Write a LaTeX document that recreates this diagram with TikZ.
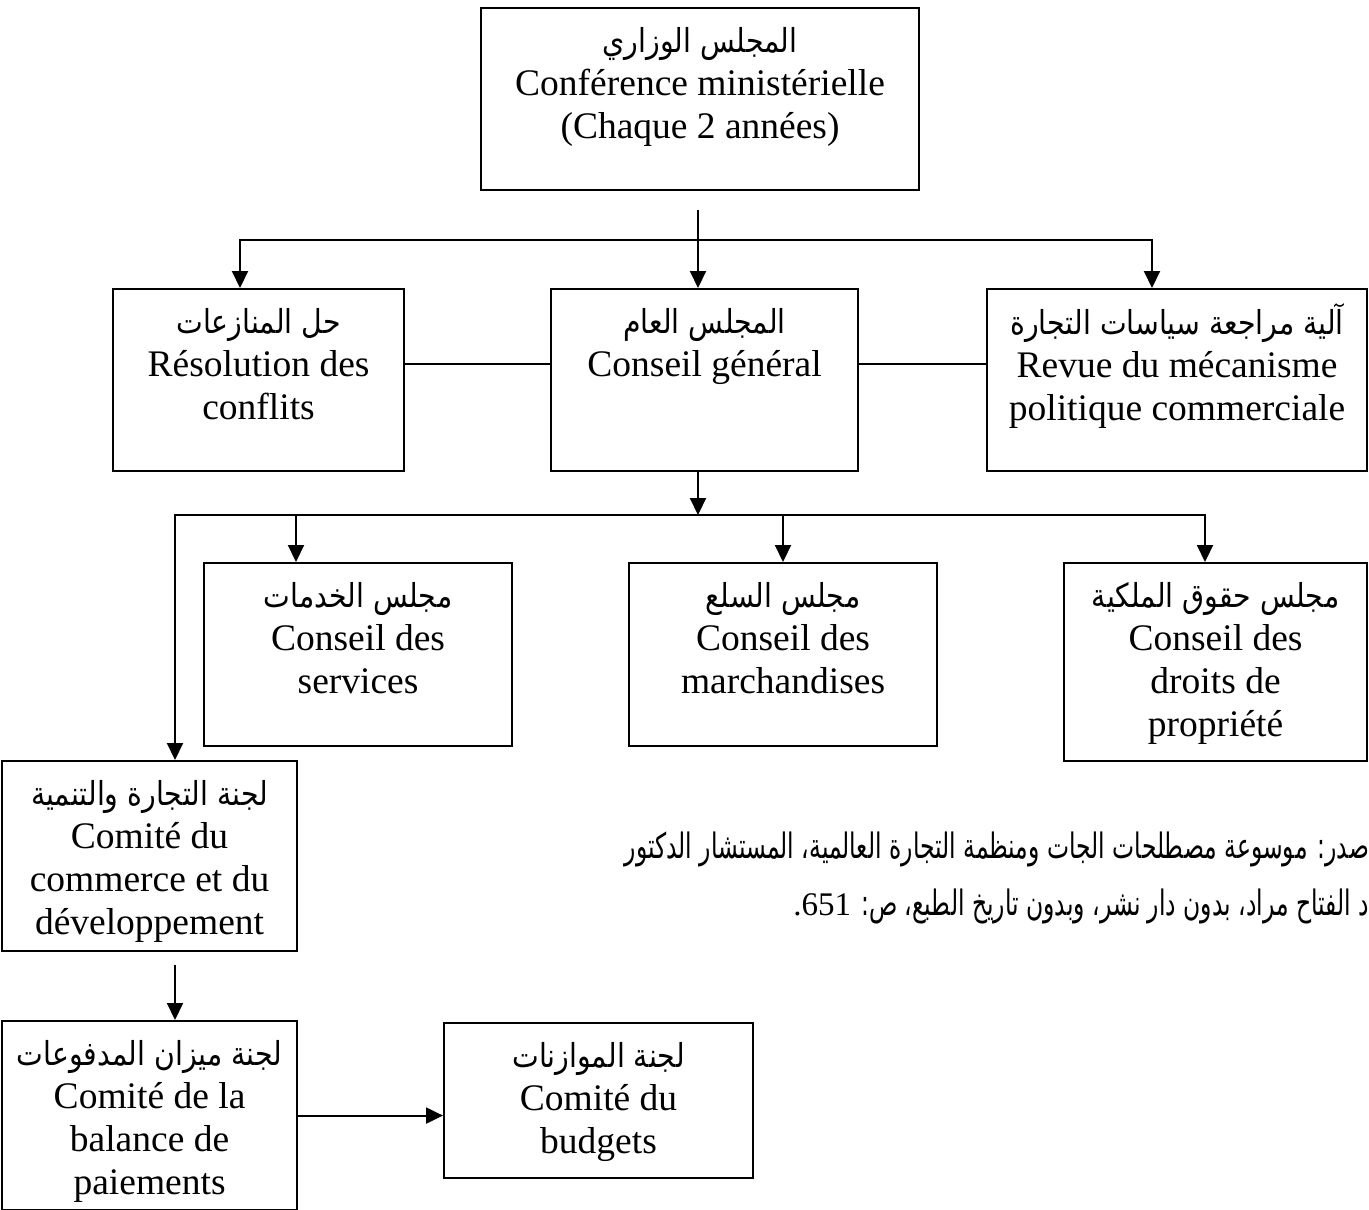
\documentclass[tikz,border=0pt]{standalone}
\usepackage{fontspec}
\setmainfont{Liberation Serif}
\newfontfamily\arabicfont[Script=Arabic, FakeStretch=0.86]{DejaVu Sans}
\newfontfamily\arabicnote[Script=Arabic, FakeStretch=0.67]{DejaVu Sans}
\TeXXeTstate=1
\usetikzlibrary{arrows.meta}

% one line of Arabic text, set right to left
\newcommand\artxt[1]{{\arabicfont\fontsize{33}{43}\selectfont\beginR #1\endR}}
% the narrower Arabic of the source note
\newcommand\arnote[1]{{\arabicnote\fontsize{35}{43}\selectfont\beginR #1\endR}}
% Latin figures inside the note
\newcommand\latnum[1]{\beginL{\normalfont\fontsize{33}{43}\selectfont #1}\endL}

\tikzset{
  box/.style={draw, line width=2.1pt, anchor=north west, inner sep=0pt},
  lbl/.style={anchor=north, align=center, inner sep=0pt,
              font=\fontsize{37.5}{43}\selectfont},
  link/.style={line width=2.1pt},
  tip/.tip={Triangle[length=17pt,width=16pt]},
  arr/.style={link, -tip},
  arrs/.style={link, tip-tip},
}

% a framed box with its labels set from the top
\newcommand\orgbox[6]{%
  \node[box, minimum width=#4pt, minimum height=#5pt] (#1) at (#2,#3) {};
  \node[lbl] (#1T) at ([yshift=-15pt]#1.north) {\rule{0pt}{30pt}#6};
}

\begin{document}
\begin{tikzpicture}[x=1pt, y=-1pt]
\useasboundingbox (0,0) rectangle (1369,1210);

\orgbox{conf}{480}{7}{438}{182}{\artxt{المجلس الوزاري}\\Conférence ministérielle\\(Chaque 2 années)}
\orgbox{res}{112}{288}{291}{182}{\artxt{حل المنازعات}\\Résolution des\\conflits}
\orgbox{gen}{550}{288}{307}{182}{\artxt{المجلس العام}\\Conseil général}
\orgbox{rev}{986}{288}{380}{182}{\artxt{آلية مراجعة سياسات التجارة}\\Revue du mécanisme\\politique commerciale}
\orgbox{serv}{203}{562}{308}{183}{\artxt{مجلس الخدمات}\\Conseil des\\services}
\orgbox{march}{628}{562}{308}{183}{\artxt{مجلس السلع}\\Conseil des\\marchandises}
\orgbox{droit}{1063}{562}{303}{198}{\artxt{مجلس حقوق الملكية}\\Conseil des\\droits de\\propriété}
\orgbox{com}{1}{760}{295}{190}{\artxt{لجنة التجارة والتنمية}\\Comité du\\commerce et du\\développement}
\orgbox{bal}{1}{1020}{295}{189}{\artxt{لجنة ميزان المدفوعات}\\Comité de la\\balance de\\paiements}
\orgbox{bud}{443}{1022}{309}{155}{\artxt{لجنة الموازنات}\\Comité du\\budgets}

% first level: conference to the three bodies
\coordinate (confD) at (698,210);
\coordinate (bus1L) at (240,240);
\coordinate (bus1R) at (1152,240);
\draw[arr] (confD) -- (confD |- gen.north);
\draw[arrs] (bus1L |- res.north) -- (bus1L) -- (bus1R) -- (bus1R |- rev.north);
\draw[link] ([yshift=16pt]res.east) -- ([yshift=16pt]gen.west);
\draw[link] ([yshift=16pt]gen.east) -- ([yshift=16pt]rev.west);

% second level: general council to the councils and committees
\coordinate (bus2L) at (175,515);
\coordinate (bus2R) at (1205,515);
\coordinate (bus2a) at (296,515);
\coordinate (bus2b) at (783,515);
\draw[arr] (gen.south -| confD) -- (confD |- bus2L);
\draw[arrs] (bus2L |- com.north) -- (bus2L) -- (bus2R) -- (bus2R |- droit.north);
\draw[arr] (bus2a) -- (bus2a |- serv.north);
\draw[arr] (bus2b) -- (bus2b |- march.north);

% committees
\coordinate (comD) at (175,965);
\draw[arr] (comD) -- (comD |- bal.north);
\draw[arr] (bal.east) -- (bal.east -| bud.west);

% source note
\node[anchor=base east, inner sep=0pt] (srcA) at (1369,858)
  {\arnote{صدر: موسوعة مصطلحات الجات ومنظمة التجارة العالمية، المستشار الدكتور}};
\node[anchor=base east, inner sep=0pt] (srcB) at (1369,915)
  {\arnote{د الفتاح مراد، بدون دار نشر، وبدون تاريخ الطبع، ص: \latnum{651}{\normalfont\fontsize{33}{43}\selectfont.}}};
\end{tikzpicture}
\end{document}
